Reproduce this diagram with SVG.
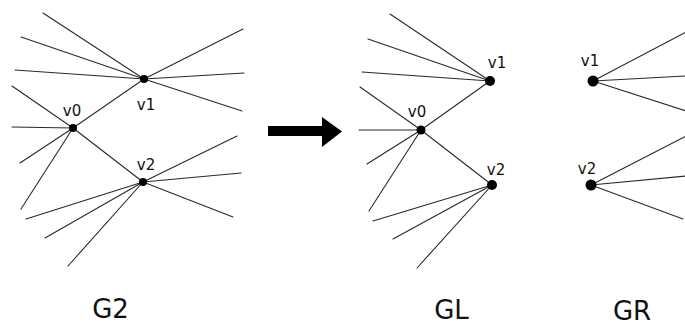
<svg xmlns="http://www.w3.org/2000/svg" width="685" height="325" viewBox="0 0 685 325">
<style>
.e{stroke:#2a2a2a;stroke-width:1.1;fill:none;stroke-linecap:round}
.d{fill:#000}
.vl{font-family:"DejaVu Sans",sans-serif;font-size:15px;fill:#111;text-anchor:middle}
.gl{font-family:"DejaVu Sans",sans-serif;font-size:26px;fill:#111;text-anchor:middle}
</style>
<rect width="685" height="325" fill="#fff"/>
<g id="connectors">
<g id="g2-edges">
<line class="e" x1="144" y1="79" x2="43" y2="13"/>
<line class="e" x1="144" y1="79" x2="21" y2="37"/>
<line class="e" x1="144" y1="79" x2="15" y2="70"/>
<line class="e" x1="144" y1="79" x2="73" y2="128"/>
<line class="e" x1="144" y1="79" x2="243" y2="29"/>
<line class="e" x1="144" y1="79" x2="244" y2="73"/>
<line class="e" x1="144" y1="79" x2="242" y2="111"/>
<line class="e" x1="73" y1="128" x2="12" y2="86"/>
<line class="e" x1="73" y1="128" x2="12" y2="127"/>
<line class="e" x1="73" y1="128" x2="20" y2="163"/>
<line class="e" x1="73" y1="128" x2="21" y2="209"/>
<line class="e" x1="73" y1="128" x2="143" y2="182"/>
<line class="e" x1="143" y1="182" x2="237" y2="136"/>
<line class="e" x1="143" y1="182" x2="241" y2="173"/>
<line class="e" x1="143" y1="182" x2="233" y2="217"/>
<line class="e" x1="143" y1="182" x2="26" y2="219"/>
<line class="e" x1="143" y1="182" x2="45" y2="238"/>
<line class="e" x1="143" y1="182" x2="68" y2="266"/>
</g>
<g id="gl-edges">
<line class="e" x1="490" y1="81" x2="390" y2="14"/>
<line class="e" x1="490" y1="81" x2="368" y2="39"/>
<line class="e" x1="490" y1="81" x2="362" y2="72"/>
<line class="e" x1="490" y1="81" x2="421" y2="130"/>
<line class="e" x1="421" y1="130" x2="360" y2="87"/>
<line class="e" x1="421" y1="130" x2="359" y2="130"/>
<line class="e" x1="421" y1="130" x2="367" y2="164"/>
<line class="e" x1="421" y1="130" x2="369" y2="211"/>
<line class="e" x1="421" y1="130" x2="492" y2="185"/>
<line class="e" x1="492" y1="185" x2="373" y2="221"/>
<line class="e" x1="492" y1="185" x2="393" y2="239"/>
<line class="e" x1="492" y1="185" x2="417" y2="268"/>
</g>
<g id="gr-edges">
<line class="e" x1="593" y1="81" x2="686" y2="32"/>
<line class="e" x1="593" y1="81" x2="686" y2="76"/>
<line class="e" x1="593" y1="81" x2="686" y2="111"/>
<line class="e" x1="591" y1="185" x2="686" y2="136"/>
<line class="e" x1="591" y1="185" x2="686" y2="176"/>
<line class="e" x1="591" y1="185" x2="683" y2="219"/>
</g>
<g id="arrow">
<rect x="268" y="126" width="55" height="10" fill="#000"/>
<polygon points="322,117 342,131.5 322,147" fill="#000"/>
</g>
</g>
<g id="G2-v0"><circle class="d" cx="73" cy="128" r="4"/><text class="vl" x="72" y="116">v0</text></g>
<g id="G2-v1"><circle class="d" cx="144" cy="79" r="4"/><text class="vl" x="146" y="110">v1</text></g>
<g id="G2-v2"><circle class="d" cx="143" cy="182" r="4"/><text class="vl" x="146" y="170">v2</text></g>
<g id="GL-v0"><circle class="d" cx="421" cy="130" r="4.5"/><text class="vl" x="417" y="117">v0</text></g>
<g id="GL-v1"><circle class="d" cx="490" cy="81" r="5"/><text class="vl" x="497" y="68">v1</text></g>
<g id="GL-v2"><circle class="d" cx="492" cy="185" r="5"/><text class="vl" x="496" y="175">v2</text></g>
<g id="GR-v1"><circle class="d" cx="593" cy="81" r="5.5"/><text class="vl" x="590" y="66">v1</text></g>
<g id="GR-v2"><circle class="d" cx="591" cy="185" r="5.5"/><text class="vl" x="587" y="174">v2</text></g>
<g id="labels">
<text class="gl" x="110.5" y="318">G2</text>
<text class="gl" x="451.5" y="319">GL</text>
<text class="gl" x="632" y="320">GR</text>
</g>
</svg>
